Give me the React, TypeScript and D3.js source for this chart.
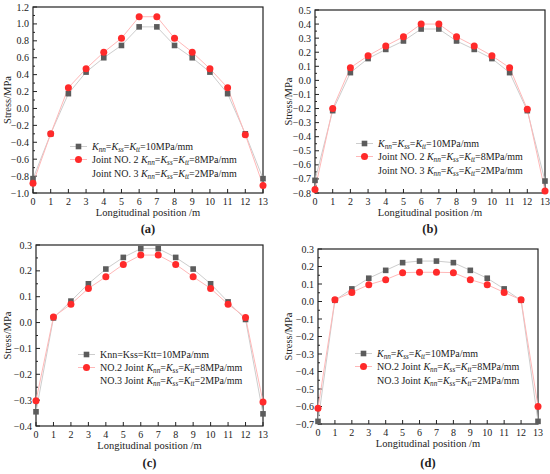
import React from 'react';
import * as d3 from 'd3';

// longitudinal positions (m)
const positions = [0, 1, 2, 3, 4, 5, 6, 7, 8, 9, 10, 11, 12, 13];

// (a)
const aK10 = [-0.83, -0.3, 0.175, 0.43, 0.6, 0.745, 0.965, 0.965, 0.745, 0.6, 0.43, 0.175, -0.3, -0.83];
const aK8 = [-0.885, -0.3, 0.245, 0.47, 0.665, 0.83, 1.085, 1.085, 0.83, 0.665, 0.47, 0.245, -0.31, -0.91];
// (b)
const bK10 = [-0.71, -0.215, 0.055, 0.155, 0.22, 0.28, 0.365, 0.365, 0.28, 0.22, 0.155, 0.055, -0.215, -0.715];
const bK8 = [-0.775, -0.2, 0.09, 0.175, 0.245, 0.31, 0.4, 0.4, 0.31, 0.245, 0.175, 0.09, -0.205, -0.785];
// (c)
const cK10 = [-0.345, 0.018, 0.083, 0.15, 0.207, 0.252, 0.286, 0.286, 0.252, 0.207, 0.15, 0.08, 0.012, -0.353];
const cK8 = [-0.302, 0.022, 0.071, 0.132, 0.177, 0.225, 0.261, 0.261, 0.225, 0.177, 0.132, 0.071, 0.02, -0.307];
// (d)
const dK10 = [-0.685, 0.007, 0.072, 0.133, 0.178, 0.222, 0.231, 0.231, 0.222, 0.178, 0.133, 0.072, 0.007, -0.685];
const dK8 = [-0.61, 0.01, 0.052, 0.096, 0.125, 0.165, 0.167, 0.167, 0.165, 0.125, 0.096, 0.052, 0.01, -0.6];

const FONT = 'Liberation Serif, DejaVu Serif, serif';
const GRAY_LINE = '#cdcdcd';
const GRAY_MARK = '#5c5c5c';
const RED_LINE = '#ffb8b8';
const RED_MARK = '#ff2a2a';

type Part = { t: string; i?: boolean; sub?: boolean };

const kParts = (val: string): Part[] => [
  { t: 'K', i: true }, { t: 'nn', i: true, sub: true }, { t: '=' },
  { t: 'K', i: true }, { t: 'ss', i: true, sub: true }, { t: '=' },
  { t: 'K', i: true }, { t: 'tt', i: true, sub: true }, { t: `=${val}MPa/mm` },
];

const txt = (size: number, extra: React.CSSProperties = {}): React.CSSProperties => ({
  fontFamily: FONT, fontSize: size, fill: '#222', ...extra,
});

const RichText: React.FC<{ x: number; y: number; parts: Part[]; size: number }> = ({ x, y, parts, size }) => {
  let shifted = false;
  return (
    <text x={x} y={y} style={txt(size)}>
      {parts.map((p, k) => {
        let dy = 0;
        if (p.sub && !shifted) { dy = 2.2; shifted = true; }
        else if (!p.sub && shifted) { dy = -2.2; shifted = false; }
        return (
          <tspan key={k} dy={dy} style={{ fontStyle: p.i ? 'italic' : 'normal', fontSize: p.sub ? size * 0.72 : size }}>
            {p.t}
          </tspan>
        );
      })}
    </text>
  );
};

interface PanelProps {
  left: number; right: number; top: number; bottom: number;
  domain: [number, number]; step: number;
  k10: number[]; k8: number[];
  legendRows: number[]; legendX: number;
  legend: Part[][];
  yLabelX: number; xLabelY: number; label: string; labelY: number;
}

const Panel: React.FC<PanelProps> = (p) => {
  const x = d3.scaleLinear().domain([0, 13]).range([p.left, p.right]);
  const y = d3.scaleLinear().domain(p.domain).range([p.bottom, p.top]);
  const n = Math.round((p.domain[1] - p.domain[0]) / p.step);
  const yTicks = d3.range(n + 1).map(i => p.domain[0] + i * p.step);
  const yMinor = d3.range(n).map(i => p.domain[0] + (i + 0.5) * p.step);
  const line = d3.line<number>().x((_, i) => x(positions[i])).y(d => y(d));
  const fmt = d3.format('.1f');
  const cx = (p.left + p.right) / 2;
  const cy = (p.top + p.bottom) / 2;
  const lx = p.legendX;

  return (
    <g>
      <rect x={p.left} y={p.top} width={p.right - p.left} height={p.bottom - p.top} fill="none" stroke="#222" strokeWidth={1.2} />
      {positions.map(v => (
        <g key={'xt' + v}>
          <line x1={x(v)} x2={x(v)} y1={p.bottom} y2={p.bottom - 4} stroke="#222" />
          <text x={x(v)} y={p.bottom + 12} textAnchor="middle" style={txt(10)}>{v}</text>
        </g>
      ))}
      {yTicks.map(v => (
        <g key={'yt' + v}>
          <line x1={p.left} x2={p.left + 4} y1={y(v)} y2={y(v)} stroke="#222" />
          <text x={p.left - 4} y={y(v) + 3.5} textAnchor="end" style={txt(10)}>
            {fmt(Math.abs(v) < 1e-9 ? 0 : v).replace('-', '\u2212')}
          </text>
        </g>
      ))}
      {yMinor.map(v => (
        <line key={'ym' + v} x1={p.left} x2={p.left + 2} y1={y(v)} y2={y(v)} stroke="#222" />
      ))}
      <path d={line(p.k10) || ''} fill="none" stroke={GRAY_LINE} strokeWidth={1} />
      <path d={line(p.k8) || ''} fill="none" stroke={RED_LINE} strokeWidth={1} />
      {p.k10.map((d, i) => (
        <rect key={'s' + i} x={x(positions[i]) - 2.8} y={y(d) - 2.8} width={5.6} height={5.6} fill={GRAY_MARK} />
      ))}
      {p.k8.map((d, i) => (
        <circle key={'c' + i} cx={x(positions[i])} cy={y(d)} r={3.5} fill={RED_MARK} />
      ))}
      {/* legend */}
      <line x1={lx - 22} x2={lx - 5} y1={p.legendRows[0] - 3.5} y2={p.legendRows[0] - 3.5} stroke={GRAY_LINE} />
      <rect x={lx - 16.3} y={p.legendRows[0] - 6.3} width={5.6} height={5.6} fill={GRAY_MARK} />
      <line x1={lx - 22} x2={lx - 5} y1={p.legendRows[1] - 3.5} y2={p.legendRows[1] - 3.5} stroke={RED_LINE} />
      <circle cx={lx - 13.5} cy={p.legendRows[1] - 3.5} r={3.5} fill={RED_MARK} />
      {p.legend.map((parts, i) => (
        <RichText key={'lg' + i} x={lx} y={p.legendRows[i]} parts={parts} size={10} />
      ))}
      <text transform={`translate(${p.yLabelX},${cy}) rotate(-90)`} textAnchor="middle" style={txt(10.5)}>Stress/MPa</text>
      <text x={cx} y={p.xLabelY} textAnchor="middle" style={txt(10.5)}>Longitudinal position /m</text>
      <text x={cx} y={p.labelY} textAnchor="middle" style={txt(12.5, { fontWeight: 'bold' })}>{p.label}</text>
    </g>
  );
};

const legendAB: Part[][] = [
  kParts('10'),
  [{ t: 'Joint NO. 2 ' }, ...kParts('8')],
  [{ t: 'Joint NO. 3 ' }, ...kParts('2')],
];
const legendC: Part[][] = [
  [{ t: 'Knn=Kss=Ktt=10MPa/mm' }],
  [{ t: 'NO.2 Joint ' }, ...kParts('8')],
  [{ t: 'NO.3 Joint ' }, ...kParts('2')],
];
const legendD: Part[][] = [
  kParts('10'),
  [{ t: 'NO.2 Joint ' }, ...kParts('8')],
  [{ t: 'NO.3 Joint ' }, ...kParts('2')],
];

const App: React.FC = () => (
  <svg width={550} height={474} style={{ position: 'absolute', left: 0, top: 0, background: '#fff' }}>
    <Panel left={33} right={263} top={7} bottom={193} domain={[-1.0, 1.2]} step={0.2}
      k10={aK10} k8={aK8} legendRows={[150, 163, 177]} legendX={92} legend={legendAB}
      yLabelX={11} xLabelY={216} label="(a)" labelY={233} />
    <Panel left={315} right={545} top={10} bottom={193} domain={[-0.8, 0.5]} step={0.1}
      k10={bK10} k8={bK8} legendRows={[147, 160, 174]} legendX={378} legend={legendAB}
      yLabelX={292} xLabelY={216} label="(b)" labelY={233} />
    <Panel left={36} right={263} top={245} bottom={426} domain={[-0.4, 0.3]} step={0.1}
      k10={cK10} k8={cK8} legendRows={[358, 371, 384]} legendX={100} legend={legendC}
      yLabelX={11} xLabelY={449} label="(c)" labelY={467} />
    <Panel left={318} right={538} top={249} bottom={424} domain={[-0.7, 0.3]} step={0.1}
      k10={dK10} k8={dK8} legendRows={[357, 370, 384]} legendX={377} legend={legendD}
      yLabelX={292} xLabelY={447} label="(d)" labelY={467} />
  </svg>
);

export default App;
